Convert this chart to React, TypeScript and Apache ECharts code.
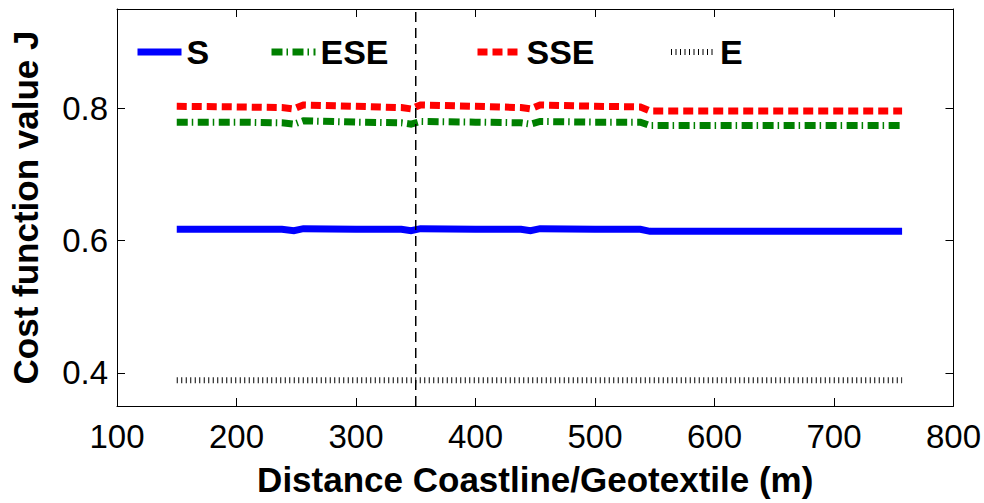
import React, { useEffect, useRef } from 'react';
import * as echarts from 'echarts';

// Distance coastline / geotextile (m)
const distances = [150, 200, 238, 248, 256, 300, 338, 346, 354, 400, 438, 446, 454, 500, 538, 546, 600, 650, 700, 757];
// Cost function value J per wave direction
const sValues = [0.617, 0.617, 0.617, 0.615, 0.618, 0.617, 0.617, 0.615, 0.618, 0.617, 0.617, 0.615, 0.618, 0.617, 0.617, 0.614, 0.614, 0.614, 0.614, 0.614];
const eseValues = [0.779, 0.779, 0.778, 0.776, 0.781, 0.779, 0.778, 0.776, 0.780, 0.779, 0.778, 0.776, 0.780, 0.779, 0.779, 0.774, 0.774, 0.774, 0.774, 0.774];
const sseValues = [0.803, 0.802, 0.801, 0.799, 0.805, 0.803, 0.801, 0.799, 0.805, 0.803, 0.801, 0.799, 0.805, 0.803, 0.802, 0.796, 0.796, 0.796, 0.796, 0.796];
const eValues = [0.389, 0.389, 0.389, 0.389, 0.389, 0.389, 0.389, 0.389, 0.389, 0.389, 0.389, 0.389, 0.389, 0.389, 0.389, 0.389, 0.389, 0.389, 0.389, 0.389];

const seriesNames = ['S', 'ESE', 'SSE', 'E'];
const yTickValues = [0.4, 0.6, 0.8];
const dividerX = 350;

const FONT = '"Liberation Sans", Arial, Helvetica, sans-serif';

export default function App() {
  const ref = useRef<HTMLDivElement>(null);

  useEffect(() => {
    if (!ref.current) return;
    const chart = echarts.init(ref.current, undefined, { renderer: 'svg' });

    const valueSets = [sValues, eseValues, sseValues, eValues];
    const styles = [
      { color: '#0000ff', width: 7, type: 'solid' as any },
      { color: '#008000', width: 7, type: [11, 4, 1.5, 4.5] },
      { color: '#ff0000', width: 7, type: [10, 5] },
      { color: '#000000', width: 6, type: [1, 3.5] },
    ];
    const legendLeft = [134, 268, 474, 668];

    const lineSeries = seriesNames.map((name, i) => ({
      name,
      type: 'line',
      symbol: 'none',
      data: distances.map((d, j) => [d, valueSets[i][j]]),
      lineStyle: { color: styles[i].color, width: styles[i].width, type: styles[i].type, cap: 'butt', join: 'miter' },
      itemStyle: { color: styles[i].color },
      silent: true,
      z: 2,
    }));

    const axisLineStyle = { color: '#000', width: 1 };

    chart.setOption({
      animation: false,
      grid: { left: 112, right: 30, top: 9, bottom: 97, containLabel: false },
      legend: seriesNames.map((name, i) => ({
        data: [name],
        left: legendLeft[i],
        top: 35,
        itemWidth: 44,
        itemHeight: 14,
        itemGap: 0,
        padding: 0,
        selectedMode: false,
        itemStyle: { color: 'transparent', borderColor: 'transparent', borderWidth: 0, opacity: 0 },
        lineStyle: { width: styles[i].width, type: styles[i].type, cap: 'butt', color: styles[i].color, opacity: 1 },
        textStyle: { fontFamily: FONT, fontSize: 34, fontWeight: 'bold', color: '#000', padding: [8, 0, 0, 0] },
      })),
      xAxis: [
        {
          type: 'value',
          min: 100,
          max: 800,
          interval: 100,
          position: 'bottom',
          axisLine: { show: true, onZero: false, lineStyle: axisLineStyle },
          axisTick: { show: true, inside: true, length: 8, lineStyle: axisLineStyle },
          axisLabel: { fontFamily: FONT, fontSize: 33, color: '#000', margin: 14 },
          splitLine: { show: false },
          name: 'Distance Coastline/Geotextile (m)',
          nameLocation: 'middle',
          nameGap: 56,
          nameTextStyle: { fontFamily: FONT, fontSize: 35, fontWeight: 'bold', color: '#000' },
        },
        {
          type: 'value',
          min: 100,
          max: 800,
          interval: 100,
          position: 'top',
          axisLine: { show: true, onZero: false, lineStyle: axisLineStyle },
          axisTick: { show: true, inside: true, length: 8, lineStyle: axisLineStyle },
          axisLabel: { show: false },
          splitLine: { show: false },
        },
      ],
      yAxis: [
        {
          type: 'value',
          min: 0.35,
          max: 0.95,
          position: 'left',
          axisLine: { show: true, onZero: false, lineStyle: axisLineStyle },
          axisTick: { show: true, inside: true, length: 8, lineStyle: axisLineStyle, customValues: yTickValues },
          axisLabel: {
            fontFamily: FONT,
            fontSize: 33,
            color: '#000',
            margin: 9,
            customValues: yTickValues,
            formatter: (v: number) => v.toFixed(1),
          },
          splitLine: { show: false },
          name: 'Cost function value J',
          nameLocation: 'middle',
          nameGap: 74,
          nameTextStyle: { fontFamily: FONT, fontSize: 35, fontWeight: 'bold', color: '#000' },
        },
        {
          type: 'value',
          min: 0.35,
          max: 0.95,
          position: 'right',
          axisLine: { show: true, onZero: false, lineStyle: axisLineStyle },
          axisTick: { show: true, inside: true, length: 8, lineStyle: axisLineStyle, customValues: yTickValues },
          axisLabel: { show: false },
          splitLine: { show: false },
        },
      ],
      series: [
        ...lineSeries,
        {
          name: 'divider',
          type: 'line',
          symbol: 'none',
          silent: true,
          data: [
            [dividerX, 0.35],
            [dividerX, 0.95],
          ],
          lineStyle: { color: '#000', width: 1.5, type: [10, 6] },
          z: 3,
        },
      ],
    });

    return () => chart.dispose();
  }, []);

  return <div ref={ref} style={{ position: 'fixed', left: 0, top: 0, width: 984, height: 503, background: '#fff' }} />;
}
